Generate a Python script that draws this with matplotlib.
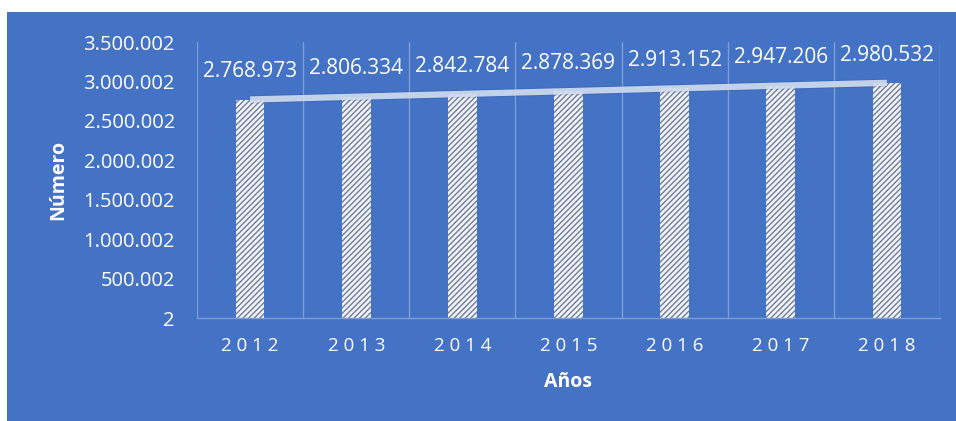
import numpy as np
import matplotlib.pyplot as plt
from matplotlib.patches import Rectangle
from matplotlib.ticker import FuncFormatter

plt.rcParams['font.family'] = ['Open Sans', 'DejaVu Sans']
plt.rcParams['hatch.linewidth'] = 1.1

# datos
anios = [2012, 2013, 2014, 2015, 2016, 2017, 2018]
numero = [2768973, 2806334, 2842784, 2878369, 2913152, 2947206, 2980532]
ticks_y = [2, 500002, 1000002, 1500002, 2000002, 2500002, 3000002, 3500002]

azul = '#4472C4'
linea = '#7f9ed6'


def miles(v, pos=None):
    return f'{int(round(v)):,}'.replace(',', '.')


fig = plt.figure(figsize=(9.56, 4.21), dpi=100)
fig.patch.set_facecolor('white')
# fondo azul del grafico
fig.add_artist(Rectangle((7 / 956, 0), 1, (421 - 12) / 421,
                         transform=fig.transFigure, facecolor=azul,
                         edgecolor='none', zorder=0))

ax = fig.add_axes([197 / 956, 103 / 421, 743 / 956, 276 / 421])
ax.set_facecolor('none')

x = np.arange(len(anios))
ax.bar(x, numero, width=0.27, color='#f4f6fb', edgecolor='#7784a0',
       linewidth=0, hatch='//////', zorder=2)

# linea de tendencia lineal
m, b = np.polyfit(x, numero, 1)
ax.plot(x, m * x + b, color='#1f3f7a', lw=6, alpha=0.15, zorder=3,
        solid_capstyle='butt')
ax.plot(x, m * x + b, color='#d3def1', lw=4.5, alpha=0.9, zorder=3,
        solid_capstyle='butt')

for xi, v in zip(x, numero):
    ax.annotate(miles(v), (xi, v), xytext=(0, 20), textcoords='offset points',
                ha='center', va='center', color='white', fontsize=15,
                zorder=4)

ax.set_xlim(-0.5, len(anios) - 0.5)
ax.set_ylim(2, 3500002)
ax.set_yticks(ticks_y)
ax.yaxis.set_major_formatter(FuncFormatter(miles))
ax.set_xticks(x)
ax.set_xticklabels([' '.join(str(a)) for a in anios])

# lineas verticales entre categorias
for xb in np.arange(-0.5, len(anios), 1.0):
    ax.axvline(xb, color=linea, lw=1, zorder=1)

for s in ['top', 'right', 'left']:
    ax.spines[s].set_visible(False)
ax.spines['bottom'].set_color(linea)
ax.spines['bottom'].set_linewidth(1)

ax.tick_params(axis='y', length=0, pad=16, labelsize=14.5, labelcolor='white')
ax.tick_params(axis='x', length=0, pad=14, labelsize=13.5, labelcolor='white')

fig.text(58 / 956, 1 - 180 / 421, 'Número', rotation=90, ha='center',
         va='center', color='white', fontsize=14, fontweight='bold')
fig.text(568 / 956, 1 - 382 / 421, 'Años', ha='center', va='center',
         color='white', fontsize=14, fontweight='bold')

plt.savefig('out.png', dpi=100)
